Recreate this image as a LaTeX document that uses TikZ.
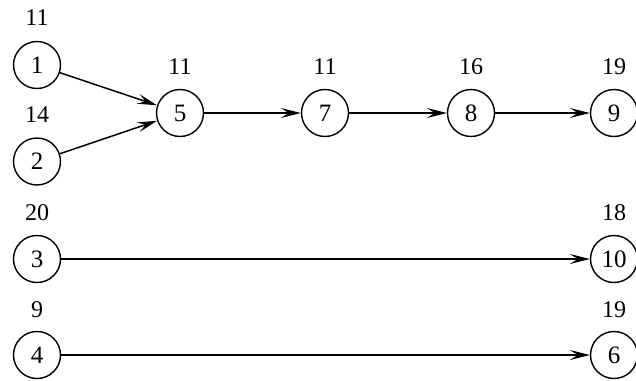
\documentclass[tikz,border=0pt]{standalone}
\usepackage{fontspec}
\setmainfont{Liberation Serif}
\usetikzlibrary{arrows.meta}
\tikzset{
  vtx/.style={circle, draw, line width=1.4pt, minimum size=47pt, inner sep=0pt, font=\fontsize{25}{30}\selectfont},
  lbl/.style={inner sep=0pt, font=\fontsize{24}{30}\selectfont},
  edge/.style={line width=1.5pt, -{Stealth[length=20pt, width=10pt, inset=8pt]}}
}
\begin{document}
\begin{tikzpicture}[x=1pt, y=-1pt]
\useasboundingbox (0,0) rectangle (636,380);
\node[vtx] (n1) at (37,65) {1};
\node[vtx] (n2) at (37,161.5) {2};
\node[vtx] (n3) at (37,259) {3};
\node[vtx] (n4) at (37,355) {4};
\node[vtx] (n5) at (180,113) {5};
\node[vtx] (n7) at (325,113) {7};
\node[vtx] (n8) at (471,113) {8};
\node[vtx] (n9) at (614,113) {9};
\node[vtx] (n10) at (614,259) {10};
\node[vtx] (n6) at (614,355) {6};
\node[lbl] (l1) at (37,18) {11};
\node[lbl] (l2) at (37,115) {14};
\node[lbl] (l3) at (37,213) {20};
\node[lbl] (l4) at (37,310) {9};
\node[lbl] (l5) at (180,67) {11};
\node[lbl] (l7) at (325,67) {11};
\node[lbl] (l8) at (471,67) {16};
\node[lbl] (l9) at (614,67) {19};
\node[lbl] (l10) at (614,213) {18};
\node[lbl] (l6) at (614,310) {19};
\draw[edge] (n1) -- (n5);
\draw[edge] (n2) -- (n5);
\draw[edge] (n5) -- (n7);
\draw[edge] (n7) -- (n8);
\draw[edge] (n8) -- (n9);
\draw[edge] (n3) -- (n10);
\draw[edge] (n4) -- (n6);
\end{tikzpicture}
\end{document}
